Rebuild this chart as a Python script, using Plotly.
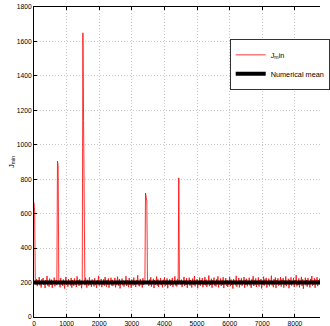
import plotly.graph_objects as go

step = 20  # iteration spacing between stored samples
j_min = [
    665,610,205,188,221,179,213,196,232,184,207,171,219,193,226,
    187,204,168,215,199,238,182,210,176,223,195,186,217,169,208,
    191,229,178,202,214,185,905,880,206,210,172,226,189,203,181,
    218,194,165,211,233,187,205,176,220,192,209,183,227,170,214,
    198,181,224,189,207,174,236,195,212,180,219,186,203,167,222,
    1650,1140,200,184,228,193,171,216,199,182,230,188,206,175,218,
    192,211,178,225,186,203,169,214,197,239,181,208,190,221,173,
    205,187,219,182,232,196,176,213,188,224,170,209,194,228,183,
    216,179,201,190,227,172,210,185,234,198,181,220,166,207,193,
    223,184,212,176,205,191,237,180,215,197,173,226,188,202,169,
    218,195,182,229,187,208,174,213,199,242,183,206,178,221,190,
    204,171,225,186,211,193,720,690,672,196,205,180,217,189,231,
    176,209,195,222,168,214,187,200,235,182,219,174,207,191,226,
    185,203,172,216,198,230,179,211,188,224,167,208,194,219,181,
    213,186,227,175,204,192,236,183,210,177,221,189,808,200,212,
    188,217,174,206,195,233,180,212,186,225,169,209,197,228,182,
    215,190,171,223,204,185,238,178,211,193,220,167,206,187,229,
    181,214,196,226,173,208,189,232,184,217,175,203,198,241,179,
    210,186,222,170,213,194,229,183,205,177,219,191,236,172,207,
    195,224,180,212,188,231,168,209,197,226,182,215,174,203,190,
    234,179,218,186,207,165,221,193,211,184,239,176,205,199,227,
    172,213,190,225,181,208,195,232,170,216,187,222,178,210,194,
    228,183,204,169,219,196,237,180,212,188,224,174,209,191,230,
    177,215,199,221,166,207,186,234,182,218,193,227,171,205,189,
    223,178,211,195,240,184,206,173,220,190,229,168,214,197,225,
    181,209,187,232,176,217,194,226,170,212,185,236,179,204,198,
    222,167,216,189,230,182,208,195,227,174,213,191,243,178,206,
    186,224,172,211,198,233,180,219,164,207,192,228,183,215,176,
    226,189,209,171,221,196,238,181,212,187,225,169,217,193,231,
    179,214,200,223,185,206,173,229,190,218,166,210,197,235,182,
]
iterations = [i * step for i in range(len(j_min))]
mean_x = [0, 9000]
mean_y = [200, 200]

x_ticks = [0, 1000, 2000, 3000, 4000, 5000, 6000, 7000, 8000, 9000]
y_ticks = [0, 200, 400, 600, 800, 1000, 1200, 1400, 1600, 1800]

font = "Liberation Sans, Arial, sans-serif"
grid = dict(showgrid=True, gridcolor="#c8c8c8", griddash="1px,2px", gridwidth=0.8)

fig = go.Figure()
fig.add_trace(go.Scatter(x=iterations, y=j_min, mode="lines",
                         line=dict(color="#ff0000", width=0.8),
                         name="J<sub>m</sub>in"))
fig.add_trace(go.Scatter(x=mean_x, y=mean_y, mode="lines",
                         line=dict(color="black", width=4),
                         name="Numerical mean"))

fig.update_layout(
    width=330, height=326,
    margin=dict(l=34, r=0, t=7, b=9),
    paper_bgcolor="white", plot_bgcolor="white",
    font=dict(family=font, size=6.7, color="black"),
    showlegend=True,
    legend=dict(x=0.685, y=0.895, xanchor="left", yanchor="top",
                bgcolor="white", bordercolor="black", borderwidth=0.8,
                font=dict(size=7.3), itemwidth=30, tracegroupgap=0),
    xaxis=dict(range=[0, 8770], tickvals=x_ticks, automargin=False, **grid,
               showline=True, linecolor="black", linewidth=1, mirror="ticks",
               ticks="inside", ticklen=3, tickcolor="black", zeroline=False),
    yaxis=dict(range=[0, 1800], tickvals=y_ticks, automargin=False, **grid,
               showline=True, linecolor="black", linewidth=1, mirror=False,
               ticks="inside", ticklen=3, tickcolor="black", zeroline=False,
               title=dict(text="J<sub>min</sub>", font=dict(size=7.5), standoff=1)),
)

fig.write_html("out.html")
